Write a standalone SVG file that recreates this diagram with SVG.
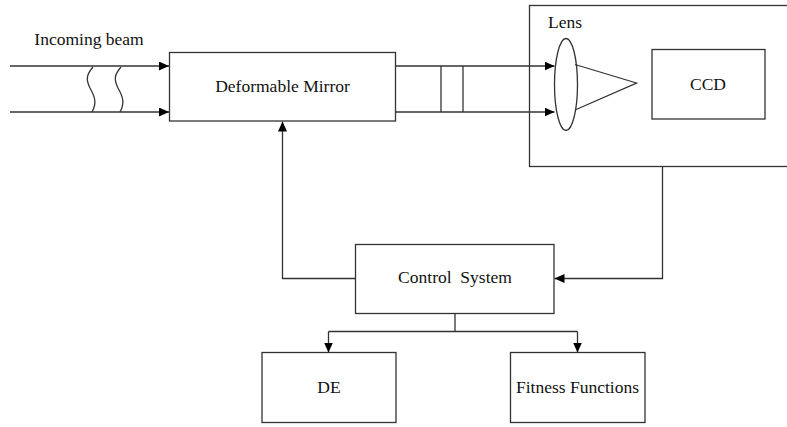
<svg xmlns="http://www.w3.org/2000/svg" width="787" height="427" viewBox="0 0 787 427">
<style>
.box{fill:#fff;stroke:#333;stroke-width:1.3}
.ln{fill:none;stroke:#333;stroke-width:1.3}
text{font-family:"Liberation Serif","Times New Roman",serif;font-size:17.5px;fill:#111;text-anchor:middle}
</style>
<defs>
<marker id="ah" markerWidth="10" markerHeight="9" refX="10" refY="4.5" orient="auto" markerUnits="userSpaceOnUse">
<path d="M0,0 L10,4.5 L0,9 Z" fill="#000"/>
</marker>
</defs>
<rect width="787" height="427" fill="#fff"/>
<text x="89" y="45">Incoming beam</text>
<g id="camera">
<rect class="box" x="529.5" y="5.5" width="270" height="161"/>
<text x="565" y="28">Lens</text>
<ellipse id="lens" class="ln" cx="566" cy="84.5" rx="11.5" ry="46"/>
<path class="ln" d="M575,64.5 L636.5,83 L575,110"/>
</g>
<g id="ccd">
<rect class="box" x="652" y="49.5" width="113" height="69.5"/>
<text x="708" y="89.5">CCD</text>
</g>
<g id="mirror">
<rect class="box" x="169.5" y="52.5" width="226" height="68.5"/>
<text x="282.5" y="92">Deformable Mirror</text>
</g>
<g id="control">
<rect class="box" x="355.5" y="244.5" width="198.5" height="69"/>
<text x="455" y="283" xml:space="preserve">Control  System</text>
</g>
<g id="de">
<rect class="box" x="262" y="352.5" width="134" height="70"/>
<text x="329" y="393">DE</text>
</g>
<g id="fitness">
<rect class="box" x="510.5" y="352.5" width="134.5" height="70"/>
<text x="577.5" y="393">Fitness Functions</text>
</g>
<g id="connectors">
<line class="ln" x1="10" y1="66" x2="169" y2="66" marker-end="url(#ah)"/>
<line class="ln" x1="10" y1="112" x2="169" y2="112" marker-end="url(#ah)"/>
<path class="ln" d="M93,67 C86,75 86,80 90,88 C95,97 97,103 92,112"/>
<path class="ln" d="M121,67 C114,75 114,80 118,88 C123,97 125,103 120,112"/>
<line class="ln" x1="396" y1="66" x2="554.5" y2="66" marker-end="url(#ah)"/>
<line class="ln" x1="396" y1="112" x2="554.5" y2="112" marker-end="url(#ah)"/>
<line class="ln" x1="441" y1="66" x2="441" y2="112"/>
<line class="ln" x1="463" y1="66" x2="463" y2="112"/>
<path class="ln" d="M355.5,278.5 H282.5 V121.5" marker-end="url(#ah)"/>
<path class="ln" d="M662.5,166.5 V278.5 H554.5" marker-end="url(#ah)"/>
<path class="ln" d="M455,313.5 V331.5"/>
<path class="ln" d="M328.5,331.5 H577.5"/>
<line class="ln" x1="328.5" y1="331.5" x2="328.5" y2="352.5" marker-end="url(#ah)"/>
<line class="ln" x1="577.5" y1="331.5" x2="577.5" y2="352.5" marker-end="url(#ah)"/>
</g>
</svg>
